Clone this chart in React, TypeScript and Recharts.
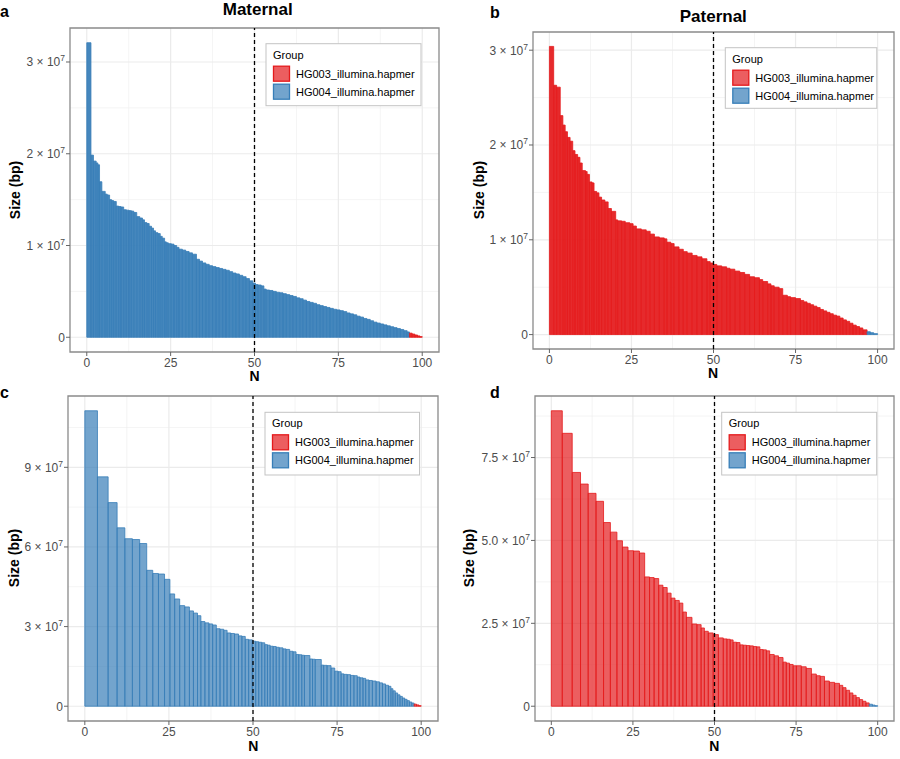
import React from 'react'
import {
  ComposedChart,
  XAxis,
  YAxis,
  CartesianGrid,
  ReferenceArea,
  ReferenceLine,
  Line,
} from 'recharts'

const FONT = '"Liberation Sans", Arial, Helvetica, sans-serif'

const GROUPS = ['HG003_illumina.hapmer', 'HG004_illumina.hapmer']
const GROUP_COLORS = ['#E41A1C', '#377EB8']

const N_TICKS = [0, 25, 50, 75, 100]
const N_MINOR = [12.5, 37.5, 62.5, 87.5]

// a - maternal contigs: N where each contig starts (%), contig size (Mb)
const A_START = [
  0, 1.25, 2.0, 2.8, 3.3, 3.8, 4.5, 5.5, 6.1, 6.8, 7.4, 8.0, 8.8, 9.5, 10.2, 11.0, 11.8, 12.6, 13.3,
  14.0, 14.9, 15.8, 16.6, 17.2, 17.9, 18.6, 19.3, 19.9, 20.5, 21.2, 21.9, 22.5, 23.2, 23.7, 24.3,
  25.2, 26.0, 26.8, 27.5, 28.5, 29.5, 30.5, 31.5, 32.7, 33.6, 34.5, 35.5, 36.5, 37.5, 38.5, 39.5,
  40.5, 41.5, 42.5, 43.5, 44.5, 45.5, 46.5, 47.5, 48.5, 49.5, 50.3, 51.0, 52.0, 52.8, 53.5, 54.5,
  55.5, 56.5, 57.5, 58.5, 59.5, 60.5, 61.5, 62.5, 63.5, 64.5, 65.5, 66.5, 67.5, 68.5, 69.5, 70.5,
  71.5, 72.5, 73.5, 74.5, 75.5, 76.5, 77.5, 78.5, 79.5, 80.5, 81.5, 82.5, 83.5, 84.5, 85.5, 86.5,
  87.5, 88.5, 89.5, 90.5, 91.5, 92.5, 93.5, 94.5, 95.5, 96.2, 97.0, 97.8, 98.6, 99.3,
]
const A_SIZE = [
  32.1, 19.85, 19.2, 19.0, 18.8, 16.95, 15.9, 15.6, 15.5, 15.0, 14.9, 14.8, 14.3, 14.25, 14.2, 13.9,
  13.85, 13.8, 13.75, 13.6, 13.15, 13.0, 12.8, 12.5, 12.4, 12.1, 11.9, 11.6, 11.4, 11.3, 11.0, 10.8,
  10.4, 10.3, 10.2, 10.15, 10.0, 9.8, 9.6, 9.5, 9.35, 9.2, 9.05, 8.5, 8.3, 8.1, 7.95, 7.8, 7.7, 7.6,
  7.5, 7.4, 7.3, 7.15, 7.0, 6.9, 6.75, 6.6, 6.4, 6.15, 5.9, 5.75, 5.7, 5.6, 5.25, 5.15, 5.1, 5.0,
  4.9, 4.85, 4.75, 4.65, 4.55, 4.45, 4.3, 4.2, 4.05, 3.9, 3.8, 3.7, 3.55, 3.45, 3.35, 3.25, 3.15,
  3.05, 2.98, 2.9, 2.8, 2.65, 2.55, 2.45, 2.3, 2.2, 2.05, 1.95, 1.8, 1.65, 1.55, 1.45, 1.35, 1.25,
  1.15, 1.05, 0.95, 0.85, 0.72, 0.58, 0.45, 0.35, 0.25, 0.15, 0.07,
]

// b - paternal contigs
const B_START = [
  0, 1.3, 2.2, 3.3, 4.1, 4.8, 5.5, 6.3, 7.1, 7.8, 8.6, 9.3, 10.0, 11.0, 11.5, 12.2, 13.0, 13.6, 14.4,
  15.1, 15.9, 16.9, 17.9, 18.9, 20.2, 20.8, 22.0, 23.1, 24.5, 25.5, 26.5, 28.0, 29.5, 30.7, 32.0,
  33.5, 35.0, 35.8, 37.0, 38.0, 39.5, 40.8, 42.0, 43.5, 45.0, 46.5, 48.0, 49.0, 50.0, 51.0, 52.5,
  54.0, 55.0, 56.5, 58.0, 59.5, 61.0, 62.5, 64.0, 65.0, 66.5, 67.5, 68.5, 70.0, 71.1, 72.5, 73.5,
  75.0, 76.5, 77.5, 78.5, 79.5, 80.5, 81.5, 82.5, 83.5, 84.5, 85.5, 86.5, 87.5, 88.5, 89.5, 90.5,
  91.5, 92.5, 93.5, 94.5, 95.5, 96.8, 97.8, 98.8,
]
const B_SIZE = [
  30.4, 26.3, 26.1, 23.1, 22.1, 21.4, 20.8, 20.4, 19.4, 19.0, 18.7, 18.1, 17.3, 17.2, 16.9, 16.1,
  16.0, 15.1, 14.95, 14.5, 14.2, 14.0, 13.3, 13.0, 12.1, 12.0, 11.95, 11.8, 11.7, 11.45, 11.15,
  11.05, 10.9, 10.6, 10.3, 10.2, 10.1, 9.75, 9.6, 9.25, 9.0, 8.75, 8.6, 8.35, 8.2, 8.0, 7.7, 7.55,
  7.4, 7.25, 7.15, 7.0, 6.9, 6.7, 6.55, 6.35, 6.1, 6.0, 5.8, 5.6, 5.35, 5.15, 5.0, 4.85, 4.15, 4.0,
  3.9, 3.8, 3.6, 3.45, 3.3, 3.15, 3.0, 2.85, 2.65, 2.5, 2.35, 2.2, 2.05, 1.95, 1.75, 1.55, 1.4, 1.2,
  1.0, 0.85, 0.7, 0.5, 0.3, 0.2, 0.1,
]

// c - maternal scaffolds
const C_START = [
  0, 3.76, 6.93, 9.6, 11.9, 14.15, 16.3, 18.4, 20.2, 21.9, 23.7, 25.3, 26.7, 28.2, 29.7, 31.1, 32.3,
  33.5, 34.5, 35.7, 36.9, 38.0, 39.1, 40.2, 41.3, 42.3, 43.4, 44.5, 45.7, 46.7, 47.7, 48.7, 49.8,
  50.8, 51.7, 52.6, 53.5, 54.3, 55.1, 56.0, 56.9, 57.8, 58.9, 59.8, 60.9, 61.9, 62.8, 63.6, 64.5,
  65.3, 66.9, 67.7, 68.5, 70.3, 71.0, 72.0, 73.2, 74.3, 75.3, 76.2, 77.0, 78.0, 79.0, 80.0, 81.0,
  81.8, 82.7, 83.5, 84.5, 85.5, 86.6, 87.6, 88.5, 89.4, 90.3, 91.0, 91.6, 92.3, 93.0, 93.7, 94.4,
  95.1, 95.8, 96.5, 97.2, 97.9, 98.6, 99.3,
]
const C_SIZE = [
  111.3, 86.4, 76.7, 67.2, 63.1, 62.8, 61.3, 51.2, 50.0, 49.8, 47.8, 42.3, 40.4, 37.9, 37.4, 35.9,
  35.1, 34.1, 31.9, 31.4, 31.0, 30.6, 29.2, 29.0, 28.6, 27.6, 27.4, 27.2, 26.5, 26.3, 25.2, 25.0,
  24.5, 24.3, 24.1, 23.9, 23.2, 23.0, 22.6, 22.5, 22.2, 22.0, 21.6, 21.4, 20.7, 20.5, 19.5, 19.4,
  19.2, 19.1, 17.8, 17.7, 17.6, 15.5, 15.4, 15.3, 14.4, 13.2, 13.0, 12.2, 12.0, 11.9, 11.6, 11.5,
  11.0, 10.7, 10.5, 9.9, 9.7, 9.5, 9.2, 8.8, 8.4, 7.9, 7.5, 6.6, 5.8, 5.0, 4.3, 3.7, 3.1, 2.6, 2.1,
  1.6, 1.2, 0.8, 0.5, 0.2,
]

// d - paternal scaffolds
const D_START = [
  0, 3.36, 6.4, 8.95, 11.3, 13.7, 16.0, 18.1, 20.1, 21.8, 23.5, 25.2, 27.0, 28.6, 30.1, 31.5, 32.9,
  34.2, 35.5, 36.7, 37.9, 39.2, 40.3, 41.4, 43.1, 44.6, 45.9, 46.9, 48.1, 49.6, 51.2, 52.7, 53.8,
  54.8, 55.7, 56.8, 57.8, 58.8, 59.8, 60.8, 61.9, 62.9, 63.9, 64.9, 65.9, 66.9, 68.3, 69.6, 71.0,
  72.0, 73.0, 74.1, 75.1, 76.6, 78.1, 79.7, 81.2, 82.4, 83.7, 85.2, 86.8, 88.3, 89.3, 90.3, 91.4,
  92.4, 93.4, 94.4, 95.4, 96.4, 97.4, 98.4, 99.2,
]
const D_SIZE = [
  89.1, 82.3, 70.5, 67.0, 64.2, 61.8, 55.4, 52.5, 49.9, 48.0, 46.9, 46.8, 46.2, 39.0, 38.8, 38.5,
  36.5, 35.8, 34.1, 32.6, 31.9, 31.1, 28.4, 26.8, 24.8, 24.6, 23.6, 22.6, 22.1, 21.6, 20.6, 20.3,
  20.2, 20.0, 19.3, 19.2, 18.5, 18.4, 18.3, 18.2, 18.0, 17.9, 17.1, 17.0, 16.7, 15.6, 15.2, 14.7,
  13.3, 13.0, 12.6, 12.2, 12.2, 11.9, 11.4, 9.7, 9.2, 9.0, 7.6, 7.2, 6.9, 6.3, 5.6, 4.8, 4.0, 3.3,
  2.6, 2.0, 1.5, 1.0, 0.6, 0.35, 0.15,
]

// group of each panel, and the N from which the few remaining bars belong to the other group
const MAIN_GROUP = { a: 1, b: 0, c: 1, d: 0 }
const OTHER_FROM = { a: 96.2, b: 96.8, c: 97.9, d: 97.4 }

const Y_TICKS_AB = [0, 1e7, 2e7, 3e7]
const Y_MINOR_AB = [0.5e7, 1.5e7, 2.5e7]
const Y_TICKS_C = [0, 3e7, 6e7, 9e7]
const Y_MINOR_C = [1.5e7, 4.5e7, 7.5e7, 10.5e7]
const Y_TICKS_D = [0, 2.5e7, 5e7, 7.5e7]
const Y_MINOR_D = [1.25e7, 3.75e7, 6.25e7, 8.75e7]

const PANELS = [
  {
    id: 'a', starts: A_START, sizes: A_SIZE, yTicks: Y_TICKS_AB, yMinor: Y_MINOR_AB, dec: 0, opacity: 0.93,
    left: 0, top: 0, w: 450, h: 380, mt: 28, mr: 11, yw: 70, xh: 28,
  },
  {
    id: 'b', starts: B_START, sizes: B_SIZE, yTicks: Y_TICKS_AB, yMinor: Y_MINOR_AB, dec: 0, opacity: 0.93,
    left: 450, top: 0, w: 450, h: 380, mt: 32, mr: 6, yw: 83, xh: 31,
  },
  {
    id: 'c', starts: C_START, sizes: C_SIZE, yTicks: Y_TICKS_C, yMinor: Y_MINOR_C, dec: 0, opacity: 0.7,
    left: 0, top: 380, w: 450, h: 379, mt: 16, mr: 12, yw: 68, xh: 38,
  },
  {
    id: 'd', starts: D_START, sizes: D_SIZE, yTicks: Y_TICKS_D, yMinor: Y_MINOR_D, dec: 1, opacity: 0.7,
    left: 450, top: 380, w: 450, h: 379, mt: 16, mr: 6, yw: 85, xh: 38,
  },
]

// text overlay (global coordinates)
const TAGS = [
  { t: 'a', x: 0, y: 17 },
  { t: 'b', x: 490, y: 18 },
  { t: 'c', x: 0, y: 398 },
  { t: 'd', x: 490, y: 398 },
]
const TITLES = [
  { t: 'Maternal', x: 257.7, y: 14.5 },
  { t: 'Paternal', x: 713.3, y: 21.5 },
]
const Y_TITLES = [
  { x: 15, y: 190 },
  { x: 479, y: 190 },
  { x: 13.5, y: 558 },
  { x: 469, y: 558 },
]
const X_TITLES = [
  { x: 254.5, y: 381 },
  { x: 713, y: 378 },
  { x: 253.3, y: 751 },
  { x: 714.3, y: 751 },
]
const LEGENDS = [
  { x: 266, y: 43.7, w: 155, h: 62 },
  { x: 725.3, y: 47.7, w: 151.5, h: 60.6 },
  { x: 265, y: 412.3, w: 154.5, h: 62.7 },
  { x: 721.7, y: 412.3, w: 155, h: 62.7 },
]

function YTick(props: any) {
  const { x, y, payload, dec } = props
  const v = payload.value
  return (
    <text x={x} y={y} dy="0.36em" textAnchor="end" fontSize={12} fill="#4d4d4d" fontFamily={FONT}>
      {v === 0 ? '0' : `${(v / 1e7).toFixed(dec)} × 10`}
      {v !== 0 && (
        <tspan dy={-5} fontSize={8.5}>
          7
        </tspan>
      )}
    </text>
  )
}

function Panel({ p }: { p: (typeof PANELS)[number] }) {
  const max = Math.max(...p.sizes) * 1e6
  const lo = -0.05 * max
  const hi = 1.05 * max
  const main = MAIN_GROUP[p.id as keyof typeof MAIN_GROUP]
  const otherFrom = OTHER_FROM[p.id as keyof typeof OTHER_FROM]
  const rows = p.starts.map((n, i) => ({ n, size: p.sizes[i] * 1e6 }))
  const bars = p.starts.map((n, i) => ({
    x1: n,
    x2: i + 1 < p.starts.length ? p.starts[i + 1] : 100,
    y: p.sizes[i] * 1e6,
    g: n >= otherFrom ? 1 - main : main,
  }))

  return (
    <div style={{ position: 'absolute', left: p.left, top: p.top, width: p.w, height: p.h }}>
      <ComposedChart
        width={p.w}
        height={p.h}
        data={rows}
        margin={{ top: p.mt, right: p.mr, bottom: 0, left: 0 }}
      >
        <CartesianGrid
          horizontalValues={p.yMinor}
          verticalValues={N_MINOR}
          stroke="#efefef"
          strokeWidth={0.7}
        />
        <CartesianGrid
          horizontalValues={p.yTicks}
          verticalValues={N_TICKS}
          stroke="#ebebeb"
          strokeWidth={1.2}
        />
        <XAxis
          type="number"
          dataKey="n"
          domain={[-5, 105]}
          ticks={N_TICKS}
          interval={0}
          allowDataOverflow
          axisLine={false}
          tickSize={4}
          tickMargin={2}
          tickLine={{ stroke: '#666' }}
          tick={{ fill: '#4d4d4d', fontSize: 12, fontFamily: FONT }}
          height={p.xh}
        />
        <YAxis
          type="number"
          domain={[lo, hi]}
          ticks={p.yTicks}
          interval={0}
          allowDataOverflow
          axisLine={false}
          tickSize={4}
          tickMargin={1}
          tickLine={{ stroke: '#666' }}
          tick={(t: any) => <YTick {...t} dec={p.dec} />}
          width={p.yw}
        />
        {bars.map((b, i) => (
          <ReferenceArea
            key={i}
            x1={b.x1}
            x2={b.x2}
            y1={0}
            y2={b.y}
            fill={GROUP_COLORS[b.g]}
            fillOpacity={p.opacity}
            stroke={GROUP_COLORS[b.g]}
            strokeWidth={0.8}
          />
        ))}
        <Line
          dataKey="size"
          stroke="none"
          dot={false}
          legendType="none"
          isAnimationActive={false}
        />
        <ReferenceLine x={50} stroke="#000" strokeWidth={1.3} strokeDasharray="4 3" />
        <ReferenceArea
          x1={-5}
          x2={105}
          y1={lo}
          y2={hi}
          fill="none"
          stroke="#8a8a8a"
          strokeWidth={1.3}
          ifOverflow="visible"
        />
      </ComposedChart>
    </div>
  )
}

export default function App() {
  return (
    <div
      style={{
        position: 'absolute',
        left: 0,
        top: 0,
        width: 900,
        height: 759,
        background: '#fff',
        fontFamily: FONT,
      }}
    >
      {PANELS.map((p) => (
        <Panel key={p.id} p={p} />
      ))}
      <svg
        width={900}
        height={759}
        style={{ position: 'absolute', left: 0, top: 0, pointerEvents: 'none' }}
        fontFamily={FONT}
      >
        {TAGS.map((t) => (
          <text key={t.t} x={t.x} y={t.y} fontSize={16} fontWeight="bold" fill="#000">
            {t.t}
          </text>
        ))}
        {TITLES.map((t) => (
          <text key={t.t} x={t.x} y={t.y} fontSize={17} fontWeight="bold" textAnchor="middle" fill="#000">
            {t.t}
          </text>
        ))}
        {Y_TITLES.map((t, i) => (
          <text
            key={i}
            x={t.x}
            y={t.y}
            transform={`rotate(-90 ${t.x} ${t.y})`}
            fontSize={14}
            fontWeight="bold"
            textAnchor="middle"
            dominantBaseline="central"
            fill="#000"
          >
            Size (bp)
          </text>
        ))}
        {X_TITLES.map((t, i) => (
          <text key={i} x={t.x} y={t.y} fontSize={14} fontWeight="bold" textAnchor="middle" fill="#000">
            N
          </text>
        ))}
        {LEGENDS.map((l, i) => (
          <g key={i} transform={`translate(${l.x},${l.y})`}>
            <rect x={0} y={0} width={l.w} height={l.h} fill="#fff" stroke="#c4c4c4" strokeWidth={1} />
            <text x={7} y={11} dominantBaseline="central" fontSize={11} fill="#000">
              Group
            </text>
            {GROUPS.map((g, k) => (
              <g key={g}>
                <rect
                  x={7.5}
                  y={22.5 + k * 18}
                  width={16}
                  height={15}
                  fill={GROUP_COLORS[k]}
                  fillOpacity={0.7}
                  stroke={GROUP_COLORS[k]}
                  strokeWidth={1.3}
                />
                <text x={30} y={30 + k * 18} dominantBaseline="central" fontSize={11} fill="#000">
                  {g}
                </text>
              </g>
            ))}
          </g>
        ))}
      </svg>
    </div>
  )
}
